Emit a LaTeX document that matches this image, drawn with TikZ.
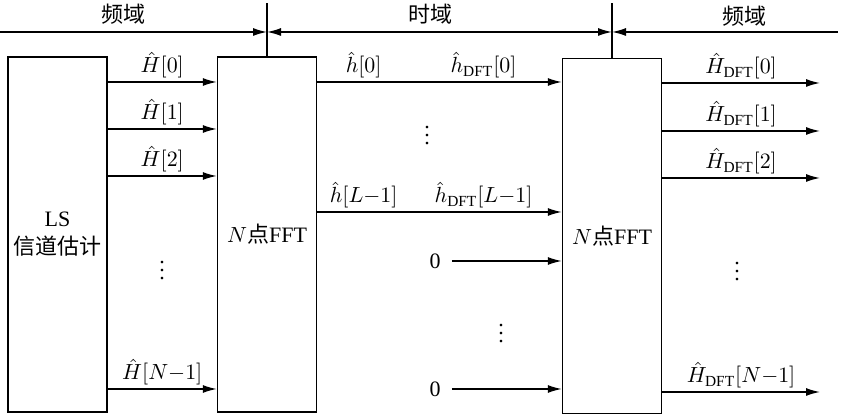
\documentclass[tikz,border=0pt]{standalone}
\usepackage{fontspec}
\setmainfont{Liberation Serif}
\newfontfamily\cjk{Noto Sans CJK SC}
\usetikzlibrary{arrows.meta}

\tikzset{
    blk/.style={draw, line width=0.7pt, minimum width=49.5pt, minimum height=177.5pt, inner sep=0pt, align=center},
    tip/.tip={Latex[length=7pt,width=4pt]},
    sig/.style={line width=0.7pt, -tip},
    lbl/.style={above, inner sep=1.5pt},
    zero/.style={inner sep=5.5pt},
}

\begin{document}
\fontsize{11}{14}\selectfont
\begin{tikzpicture}[x=0.5pt, y=-0.5pt]
        \useasboundingbox (0,0) rectangle (842,415);

        % the three blocks
        \node[blk] (ls) at (57.5, 234.5) {LS\\{\cjk 信道估计}};
        \node[blk] (fft1) at (267, 234.5) {$N${\cjk 点}FFT};
        \node[blk] (fft2) at (612, 236) {$N${\cjk 点}FFT};

        % domain bar on top
        \coordinate (bl) at (0, 32);
        \coordinate (br) at (838, 32);
        \coordinate (t1) at (fft1.north |- 0, 3);
        \coordinate (t2) at (fft2.north |- 0, 3);
        \draw[line width=0.7pt] (fft1.north) -- (t1);
        \draw[line width=0.7pt] (fft2.north) -- (t2);
        \draw[sig] (bl) -- (t1 |- bl);
        \draw[sig, tip-tip] (t1 |- bl) -- (t2 |- bl);
        \draw[sig, tip-] (t2 |- bl) -- (br);
        \node (fd1) at (123, 14) {\cjk 频域};
        \node (td) at (430, 14) {\cjk 时域};
        \node (fd2) at (744, 16) {\cjk 频域};

        % LS outputs into the first FFT
        \foreach \k/\y in {0/82, 1/129, 2/176} {
            \coordinate (r\k) at (0, \y);
            \draw[sig] (ls.east |- r\k) -- node[lbl] {$\hat{H}[\k]$} (fft1.west |- r\k);
 }
        \coordinate (rn) at (0, 389);
        \draw[sig] (ls.east |- rn) -- node[lbl] {$\hat{H}[N{-}1]$} (fft1.west |- rn);
        \node (d1) at (162, 265) {$\vdots$};

        % time domain taps, then zero padding
        \coordinate (m0) at (0, 82);
        \coordinate (ml) at (0, 212);
        \draw[sig] (fft1.east |- m0) -- node[lbl, pos=0.19] {$\hat{h}[0]$}
            node[lbl, pos=0.68] {$\hat{h}_{\mathrm{DFT}}[0]$} (fft2.west |- m0);
        \draw[sig] (fft1.east |- ml) -- node[lbl, pos=0.19] {$\hat{h}[L{-}1]$}
            node[lbl, pos=0.68] {$\hat{h}_{\mathrm{DFT}}[L{-}1]$} (fft2.west |- ml);
        \node (d2) at (427, 130) {$\vdots$};
        \node[zero] (z1) at (435, 261) {0};
        \node[zero] (z2) at (435, 389) {0};
        \draw[sig] (z1.east) -- (fft2.west |- z1);
        \draw[sig] (z2.east) -- (fft2.west |- z2);
        \node (d3) at (501, 328) {$\vdots$};

        % outputs of the second FFT
        \foreach \k/\y in {0/83, 1/131, 2/178} {
            \coordinate (o\k) at (820, \y);
            \draw[sig] (fft2.east |- o\k) -- node[lbl] {$\hat{H}_{\mathrm{DFT}}[\k]$} (o\k);
 }
        \coordinate (on) at (820, 392);
        \draw[sig] (fft2.east |- on) -- node[lbl] {$\hat{H}_{\mathrm{DFT}}[N{-}1]$} (on);
        \node (d4) at (737, 266) {$\vdots$};
    \end{tikzpicture}
\end{document}
